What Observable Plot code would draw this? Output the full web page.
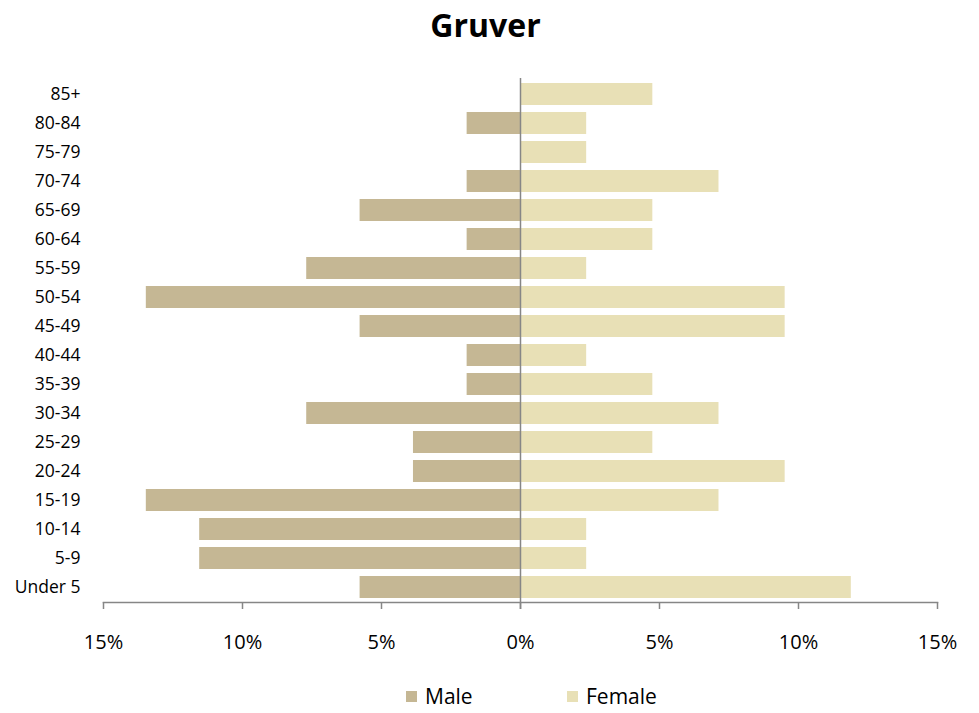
<!DOCTYPE html>
<html>
<head>
<meta charset="utf-8">
<script src="https://cdn.jsdelivr.net/npm/d3@7"></script>
<script src="https://cdn.jsdelivr.net/npm/@observablehq/plot@0.6"></script>
<style>
  body { margin: 0; background: #fff; font-family: "Open Sans", "Noto Sans", sans-serif; }
  #title { height: 60px; line-height: 50px; text-align: center; font-weight: bold; font-size: 32px; color: #000; padding-right: 8px; box-sizing: border-box; }
  #chart svg { display: block; }
  #legend { position: relative; height: 53px; font-size: 21px; color: #000; }
  .item { position: absolute; top: 22px; display: flex; align-items: center; }
  .sw { width: 11px; height: 11px; margin-right: 8px; }
</style>
</head>
<body>
<div id="title">Gruver</div>
<div id="chart"></div>
<div id="legend">
  <div class="item" style="left:406px"><div class="sw" style="background:#C5B794"></div>Male</div>
  <div class="item" style="left:567px"><div class="sw" style="background:#E8E0B6"></div>Female</div>
</div>
<script>
const ageGroups = ["85+","80-84","75-79","70-74","65-69","60-64","55-59","50-54","45-49","40-44","35-39","30-34","25-29","20-24","15-19","10-14","5-9","Under 5"];
const malePct   = [0, 1.92, 0, 1.92, 5.77, 1.92, 7.69, 13.46, 5.77, 1.92, 1.92, 7.69, 3.85, 3.85, 13.46, 11.54, 11.54, 5.77];
const femalePct = [4.76, 2.38, 2.38, 7.14, 4.76, 4.76, 2.38, 9.52, 9.52, 2.38, 4.76, 7.14, 4.76, 9.52, 7.14, 2.38, 2.38, 11.90];
const xTicks = [-15, -10, -5, 0, 5, 10, 15];

const rows = [];
ageGroups.forEach((g, i) => {
  rows.push({age: g, sex: "Male", value: -malePct[i]});
  rows.push({age: g, sex: "Female", value: femalePct[i]});
});

const chart = Plot.plot({
  width: 979,
  height: 600,
  marginTop: 18,
  marginBottom: 58,
  marginLeft: 103,
  marginRight: 42,
  style: {fontFamily: "'Open Sans', 'Noto Sans', sans-serif", fontSize: "16px", color: "#000"},
  x: {domain: [-15, 15], ticks: xTicks},
  y: {domain: ageGroups, paddingInner: 0.25, paddingOuter: 0.125},
  color: {domain: ["Male", "Female"], range: ["#C5B794", "#E8E0B6"]},
  marks: [
    Plot.barX(rows, {x: "value", y: "age", fill: "sex"}),
    Plot.frame({anchor: "bottom", stroke: "#868686", strokeWidth: 1.5}),
    Plot.axisX({ticks: xTicks, tickSize: 7, tickPadding: 25, stroke: "#868686", strokeWidth: 1.5, tickFormat: d => Math.abs(d) + "%", label: null, fontSize: 20}),
    Plot.axisY({tickSize: 0, tickPadding: 23, label: null, fontSize: 17.5}),
    Plot.ruleX([0], {stroke: "#868686", strokeWidth: 1.5, insetBottom: -7})
  ]
});
document.getElementById("chart").appendChild(chart);
</script>
</body>
</html>
